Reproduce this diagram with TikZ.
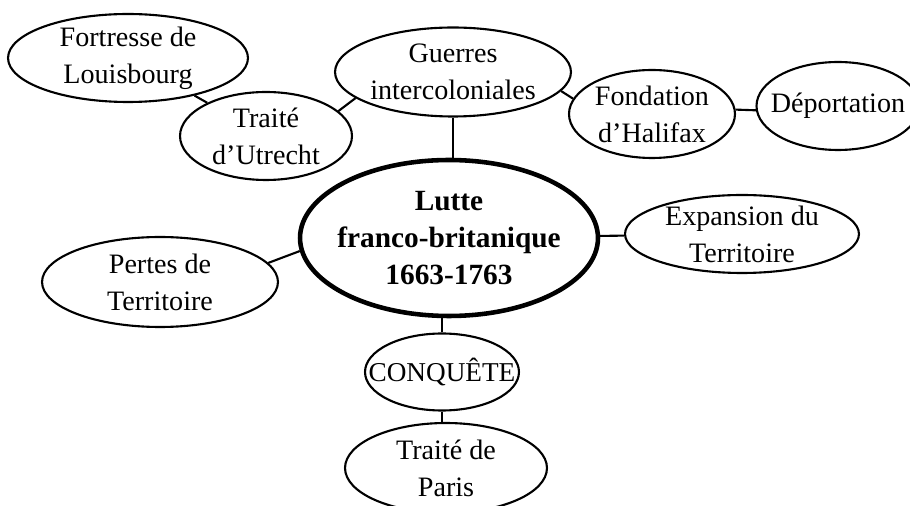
\documentclass[tikz,border=0pt]{standalone}
\usepackage{fontspec}
\setmainfont{Liberation Serif}
\usetikzlibrary{shapes.geometric}

\tikzset{
  idea/.style={ellipse, draw, line width=1.2pt, inner sep=-1cm, align=center,
    font=\fontsize{16}{21}\selectfont},
  lien/.style={line width=1.2pt},
}

\begin{document}
\begin{tikzpicture}[x=0.02cm, y=-0.02cm]
  \clip (0,0) rectangle (910,506);

  % Центральний вузол
  \node[idea, line width=2.6pt, minimum width=5.96cm, minimum height=3.12cm,
    font=\bfseries\fontsize{16.7}{21.3}\selectfont] (lutte) at (449,238)
    {Lutte\\franco-britanique\\1663-1763};

  % Верхня гілка
  \node[idea, minimum width=4.72cm, minimum height=1.78cm] (guerres) at (453,72)
    {Guerres\\intercoloniales};
  \node[idea, minimum width=3.44cm, minimum height=1.76cm] (utrecht) at (266,136)
    {Traité\\d’Utrecht};
  \node[idea, minimum width=4.8cm, minimum height=1.76cm] (louisbourg) at (128,58)
    {Fortresse de\\Louisbourg};
  \node[idea, minimum width=3.32cm, minimum height=1.76cm] (halifax) at (652,114)
    {Fondation\\d’Halifax};
  \node[idea, minimum width=3.26cm, minimum height=1.76cm] (deportation) at (838,106)
    {Déportation};

  % Бічні вузли
  \node[idea, minimum width=4.68cm, minimum height=1.56cm] (expansion) at (742,234)
    {Expansion du\\Territoire};
  \node[idea, minimum width=4.72cm, minimum height=1.8cm] (pertes) at (160,282)
    {Pertes de\\Territoire};

  % Нижня гілка
  \node[idea, minimum width=3.08cm, minimum height=1.54cm,
    font=\fontsize{15.5}{21}\selectfont] (conquete) at (442,372)
    {CONQUÊTE};
  \node[idea, minimum width=4.04cm, minimum height=1.8cm] (paris) at (446,468)
    {Traité de\\Paris};

  % Зв'язки
  \draw[lien] (louisbourg) -- (utrecht);
  \draw[lien] (utrecht.19) -- (guerres.195);
  \draw[lien] (guerres.south) -- (guerres.south |- lutte.north);
  \draw[lien] (guerres.-10) -- (halifax.169);
  \draw[lien] (halifax.3) -- (deportation.183);
  \draw[lien] (lutte) -- (expansion);
  \draw[lien] (lutte.185) -- (pertes.10);
  \draw[lien] (conquete.north) -- (conquete.north |- lutte.south);
  \draw[lien] (conquete.south) -- (conquete.south |- paris.north);
\end{tikzpicture}
\end{document}
